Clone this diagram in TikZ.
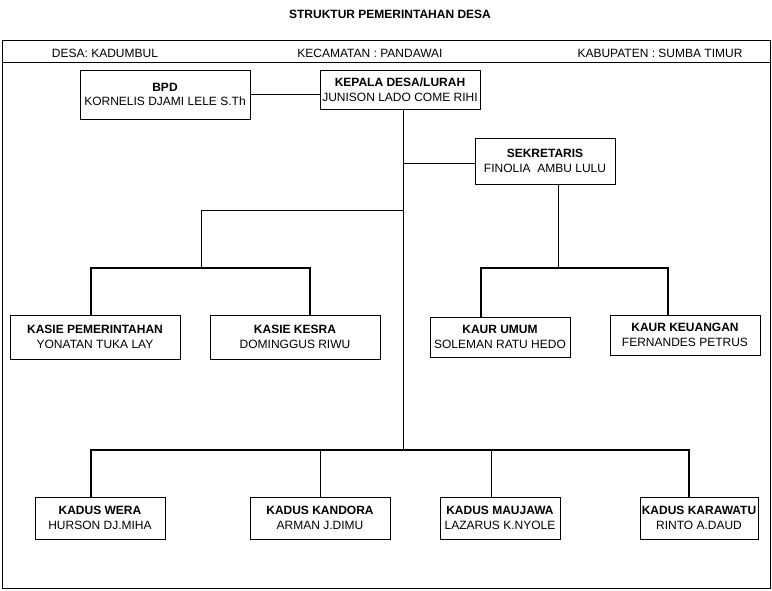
\documentclass[tikz,border=0pt]{standalone}
\usepackage{fontspec}
\setmainfont{Liberation Sans}
\begin{document}
\begin{tikzpicture}[x=0.75pt,y=-0.75pt,font=\fontsize{9}{11}\selectfont,
 box/.style={draw,thin,fill=white,align=center,inner sep=0pt},
 thick line/.style={line width=1.4pt},
 thin line/.style={line width=0.5pt}]
\useasboundingbox (0,0) rectangle (772,591);
\node at (390,14) {\bfseries STRUKTUR PEMERINTAHAN DESA};
\draw[thin line] (2,40) rectangle (770,588);
\draw[thin line] (2,62) -- (770,62);
\node at (105,53) {DESA: KADUMBUL};
\node at (370,53) {KECAMATAN : PANDAWAI};
\node at (660,53) {KABUPATEN : SUMBA TIMUR};
\newcommand{\orgbox}[7]{\node[box,minimum width=#4*0.75pt,minimum height=#5*0.75pt] (#1) at (#2,#3) {\textbf{#6}\\#7};}
\orgbox{bpd}{165}{94.5}{170}{49}{BPD}{KORNELIS DJAMI LELE S.Th}
\orgbox{kep}{400}{89.5}{160}{39}{KEPALA DESA/LURAH}{JUNISON LADO COME RIHI}
\orgbox{sek}{545}{161}{140}{46}{SEKRETARIS}{FINOLIA \ AMBU LULU}
\orgbox{kp}{95}{337}{170}{44}{KASIE PEMERINTAHAN}{YONATAN TUKA LAY}
\orgbox{kk}{295}{337}{170}{44}{KASIE KESRA}{DOMINGGUS RIWU}
\orgbox{ku}{500}{337}{140}{40}{KAUR UMUM}{SOLEMAN RATU HEDO}
\orgbox{kkeu}{685}{335}{150}{40}{KAUR KEUANGAN}{FERNANDES PETRUS}
\orgbox{d1}{100}{518}{130}{42}{KADUS WERA}{HURSON DJ.MIHA}
\orgbox{d2}{320}{518}{140}{42}{KADUS KANDORA}{ARMAN J.DIMU}
\orgbox{d3}{500}{518}{120}{42}{KADUS MAUJAWA}{LAZARUS K.NYOLE}
\orgbox{d4}{699}{518}{118}{42}{KADUS KARAWATU}{RINTO A.DAUD}
\coordinate (c1) at (403,163);
\coordinate (c2) at (403,210);
\coordinate (c3) at (201,210);
\coordinate (c4) at (201,268);
\coordinate (c5) at (558,268);
\coordinate (c6) at (403,450);
\draw[thin line] (bpd.east) -- (bpd.east -| kep.west);
\draw[thin line] (403,109) -- (c6);
\draw[thin line] (c1) -- (c1 -| sek.west);
\draw[thin line] (c2) -- (c3) -- (c4);
\draw[thin line] (558,184) -- (c5);
\draw[thick line] (kp.north) ++(-4,0) coordinate (a1) (91,315) -- (91,268) -- (310,268) -- (310,315);
\draw[thick line] (481,317) -- (481,268) -- (668,268) -- (668,315);
\draw[thick line] (91,497) -- (91,450) -- (689,450) -- (689,497);
\draw[thin line] (320,450) -- (d2.north);
\draw[thin line] (491,450) -- (491,497);
\end{tikzpicture}
\end{document}
